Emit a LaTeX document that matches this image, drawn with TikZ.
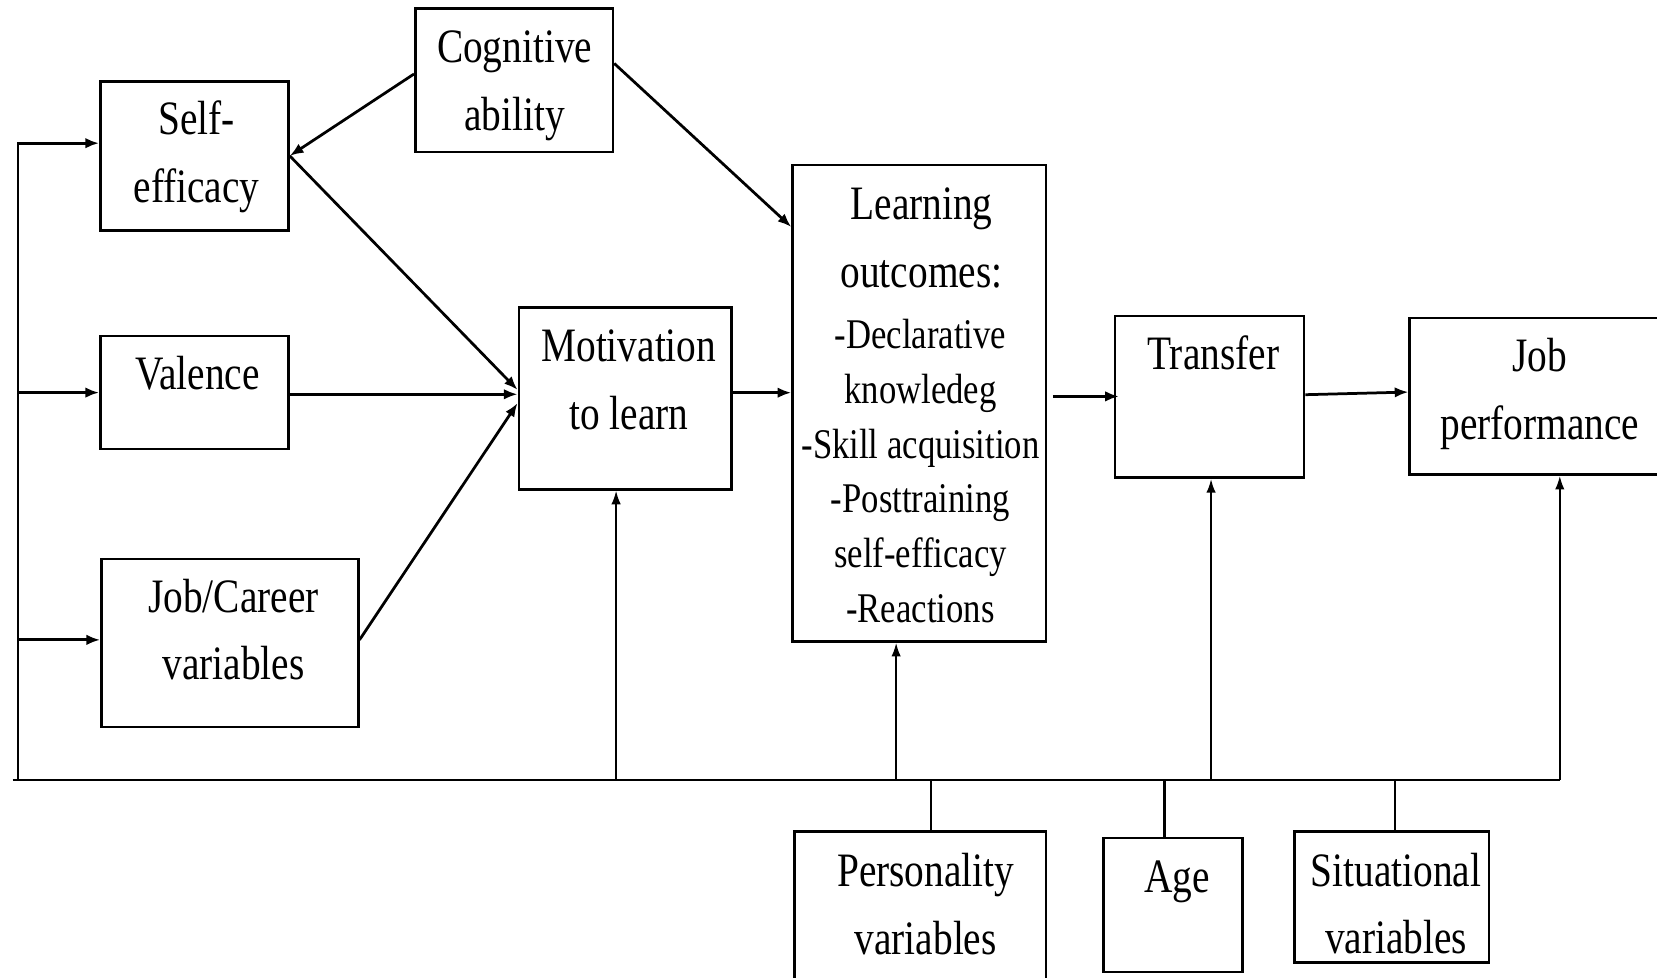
\documentclass[tikz,border=0pt]{standalone}
\usepackage{fontspec}
\setmainfont{Liberation Serif}[FakeStretch=0.82]
\usetikzlibrary{arrows.meta}
\newcommand\mkbox[5]{\node[boxnode, minimum width={(#4-#2)*0.5pt}, minimum height={(#5-#3)*0.5pt}] (#1) at ({(#2+#4)/2},{(#3+#5)/2}) {};}
\tikzset{
  boxnode/.style={draw, line width=1.2pt, inner sep=0pt, rectangle},
  ttl/.style={font=\fontsize{22.7}{32}\selectfont, align=center, inner sep=0pt},
  lst/.style={font=\fontsize{20}{26}\selectfont, align=center, inner sep=0pt},
  ln/.style={line width=1.2pt},
  arr/.style={line width=1.3pt, -{Latex[length=6.5pt,width=5pt]}},
  uparr/.style={line width=1pt, -{Latex[length=6.5pt,width=4.5pt]}},
}
\begin{document}
\begin{tikzpicture}[x=0.5pt,y=-0.5pt]
\fill[white] (0,0) rectangle (1568,925);
\useasboundingbox (0,0) rectangle (1568,925);
% boxes
\mkbox{cog}{393}{8}{580}{144}
\mkbox{self}{95}{77}{273}{218}
\mkbox{val}{95}{318}{273}{425}
\mkbox{job}{96}{529}{339}{688}
\mkbox{mot}{491}{291}{692}{463}
\mkbox{learn}{750}{156}{990}{607}
\mkbox{trans}{1055}{299}{1234}{452}
\mkbox{perf}{1334}{301}{1574}{449}
\mkbox{pers}{752}{787}{990}{932}
\mkbox{age}{1044}{793}{1176}{920}
\mkbox{sit}{1225}{787}{1409}{911}
% texts
\node[ttl] (cogT) at (487,78.7) {\strut Cognitive\\\strut ability};
\node[ttl] (selfT) at (186,146.7) {\strut Self-\\\strut efficacy};
\node[ttl] (valT) at (187,356) {\strut Valence};
\node[ttl] (jobT) at (221,598.5) {\strut Job/Career\\\strut variables};
\node[ttl] (motT) at (595,361.7) {\strut Motivation\\\strut to learn};
\node[ttl] (learnT) at (872,227.2) {\strut Learning\\\strut outcomes:};
\node[lst] (learnL) at (871,449) {\strut -Declarative\\\strut knowledeg\\\strut -Skill acquisition\\\strut -Posttraining\\\strut self-efficacy\\\strut -Reactions};
\node[ttl] (transT) at (1148,337.2) {\strut Transfer};
\node[ttl] (perfT) at (1457,370.7) {\strut Job\\\strut performance};
\node[ttl] (persT) at (876,858.2) {\strut Personality\\\strut variables};
\node[ttl] (ageT) at (1114,832) {\strut Age};
\node[ttl] (sitT) at (1321,857.7) {\strut Situational\\\strut variables};
% coordinates
\coordinate (bl) at (12,738);
\coordinate (br) at (1476,738);
\coordinate (lv) at (17,738);
\coordinate (selfin) at ([yshift=6pt]self.west);
\coordinate (jobin) at ([yshift=1.5pt]job.west);
\coordinate (u1) at (583,738);
\coordinate (u2) at (848,738);
\coordinate (u3) at (1146,738);
\coordinate (s1) at (881,738);
\coordinate (s2) at (1102,738);
\coordinate (s3) at (1320,738);
% bus and left feed
\draw[ln] (bl) -- (br);
\draw[arr] (lv) |- (selfin);
\draw[arr] (lv |- val.west) -- (val.west);
\draw[arr] (lv |- jobin) -- (jobin);
% up arrows
\draw[uparr] (u1) -- (u1 |- mot.south);
\draw[uparr] (u2) -- (u2 |- learn.south);
\draw[uparr] (u3) -- (u3 |- trans.south);
\draw[uparr] (br) -- (br |- perf.south);
% stems
\draw[ln] (s1) -- (s1 |- pers.north);
\draw[ln] (s2) -- (s2 |- age.north);
\draw[ln] (s3) -- (s3 |- sit.north);
% main connectors
\draw[arr] ([yshift=3pt]cog.west) -- (self.east);
\draw[arr] ([yshift=8pt]cog.east) -- ([yshift=-30pt]learn.north west);
\draw[arr] (self.east) -- ([yshift=4pt]mot.west);
\draw[arr] ([yshift=-0.8pt]val.east) -- ([yshift=-0.8pt]val.east -| mot.west);
\draw[arr] ([yshift=1.5pt]job.east) -- ([yshift=-2.2pt]mot.west);
\draw[arr] ([yshift=2.7pt]mot.east) -- ([yshift=2.7pt]mot.east -| learn.west);
\draw[arr] ([xshift=2.5pt,yshift=3.2pt]learn.east) -- ([xshift=2.5pt,yshift=3.2pt]learn.east -| trans.west);
\draw[arr] ([yshift=1pt]trans.east) -- ([yshift=2pt]perf.west);
\end{tikzpicture}
\end{document}
